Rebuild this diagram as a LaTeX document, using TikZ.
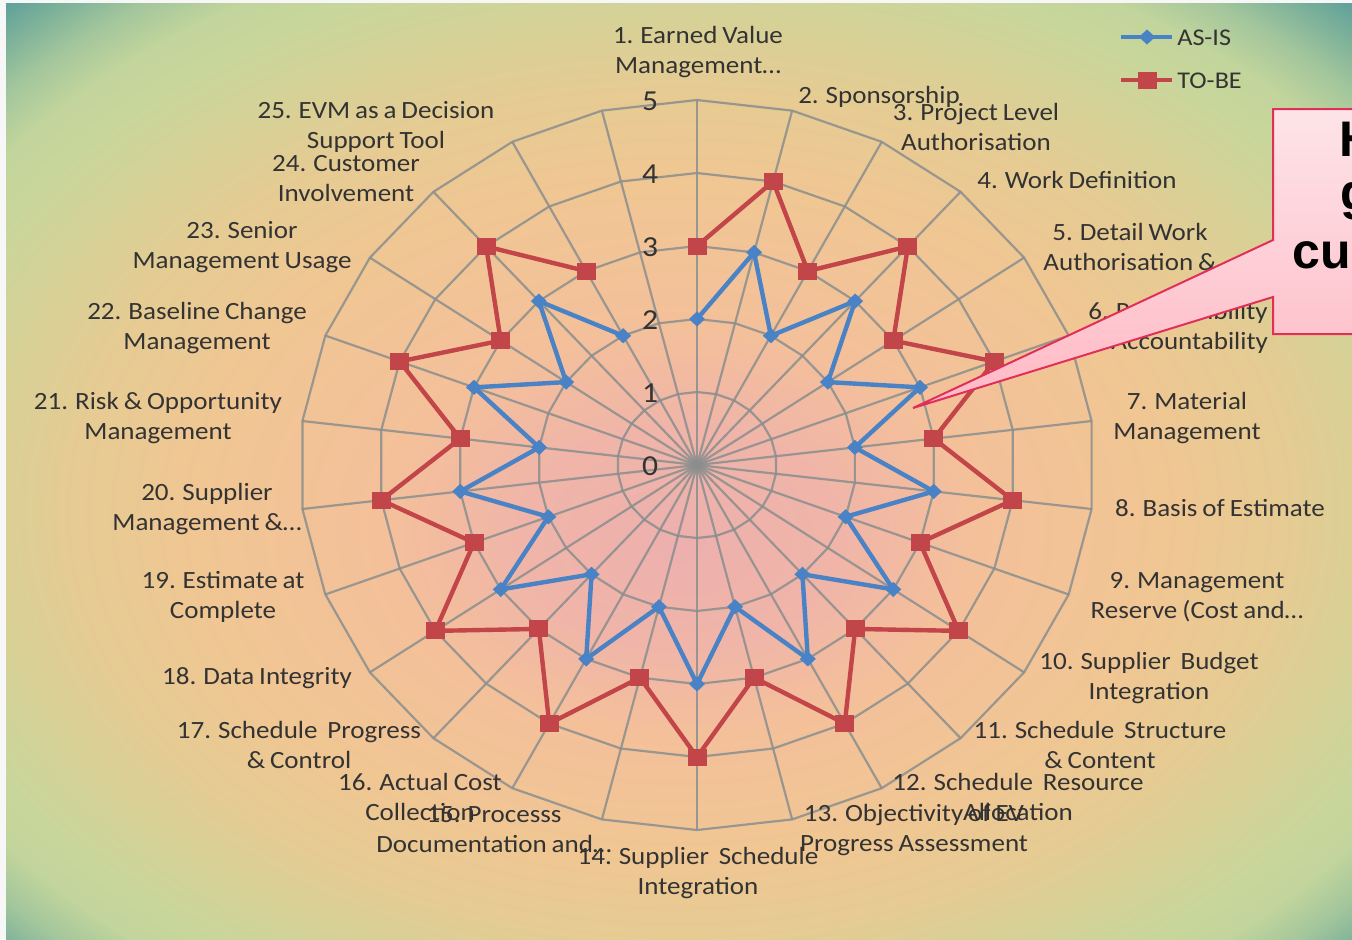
\documentclass[tikz,border=0pt]{standalone}
\usepackage{fontspec}
\setmainfont{Carlito}[FakeStretch=1.09, WordSpace=0.8]
\newfontfamily\calloutfont{Liberation Sans}
\usetikzlibrary{calc}

% background colours, from the pink centre out to the teal corners
\definecolor{bgA}{HTML}{EDB0AE}
\definecolor{bgB}{HTML}{F0B5A8}
\definecolor{bgC}{HTML}{F4C09A}
\definecolor{bgD}{HTML}{F0C693}
\definecolor{bgE}{HTML}{E6CB93}
\definecolor{bgF}{HTML}{D9D096}
\definecolor{bgG}{HTML}{C9D69B}
\definecolor{bgH}{HTML}{C2D59C}
\definecolor{bgI}{HTML}{A3C69C}
\definecolor{bgJ}{HTML}{82B49A}
\definecolor{bgK}{HTML}{62A29A}
\definecolor{bgL}{HTML}{5A9E98}
\pgfdeclareradialshading{chartbg}{\pgfpoint{0bp}{-4bp}}{%
  color(0bp)=(bgA); color(6bp)=(bgB); color(11bp)=(bgC); color(18bp)=(bgD);
  color(22.5bp)=(bgE); color(25.5bp)=(bgF); color(29bp)=(bgG); color(31bp)=(bgH);
  color(33bp)=(bgI); color(34.5bp)=(bgJ); color(36bp)=(bgK); color(50bp)=(bgL)}

\definecolor{asis}{HTML}{4A82C6}
\definecolor{tobe}{HTML}{C2454A}
\definecolor{gridgray}{HTML}{8A8E8E}
\definecolor{labelgray}{HTML}{333333}
\definecolor{calloutedge}{HTML}{E0305A}
\definecolor{callouttop}{HTML}{FDE4E8}
\definecolor{calloutbot}{HTML}{FFB9C4}

\tikzset{
  gridline/.style={draw=gridgray, line width=1.1pt, draw opacity=0.85},
  asisline/.style={draw=asis, line width=2.2pt, line join=round},
  tobeline/.style={draw=tobe, line width=2.2pt, line join=round},
  catlabel/.style={text=labelgray, font=\fontsize{12.4}{15}\selectfont, align=center, inner sep=0pt},
  ticklabel/.style={text=labelgray, font=\fontsize{14.5}{16}\selectfont, inner sep=0pt},
  legendtext/.style={text=labelgray, font=\fontsize{12}{14}\selectfont, anchor=west, inner sep=0pt},
  callouttext/.style={font=\calloutfont\bfseries\fontsize{25}{28}\selectfont, anchor=base west, inner sep=0pt, text=black},
}

\begin{document}
\begin{tikzpicture}[x=0.5pt,y=-0.5pt]
\useasboundingbox (0,0) rectangle (1352,939);
\clip (0,0) rectangle (1352,939);

% page and gradient backdrop
\fill[white!94!gray] (0,0) rectangle (1352,939);
\shade[shading=chartbg] (6,3) rectangle (1352,939);

% radar grid: 26 spokes, rings 1..5
\begin{scope}[shift={(697,465)}, x=39.75pt, y=36.5pt]
  \coordinate (O) at (0,0);
  \foreach \j in {0,...,25} \coordinate (s\j) at ({90-\j*360/26}:5);
  \foreach \j in {0,...,25} \draw[gridline] (O) -- (s\j);
  \foreach \k in {1,...,5}
    \draw[gridline] (90:\k) \foreach \j in {1,...,25}{ -- ({90-\j*360/26}:\k) } -- cycle;
  \foreach \j in {0,...,24} {
    \coordinate (b\j) at ({90-\j*360/26}:{2+mod(\j,2)});
    \coordinate (r\j) at ({90-\j*360/26}:{3+mod(\j,2)});
  }
\end{scope}

% AS-IS series
\draw[asisline] (b0) \foreach \j in {1,...,24}{ -- (b\j) };
\foreach \j in {0,...,24}
  \fill[asis] ([yshift=3.8pt]b\j) -- ([xshift=4pt]b\j) -- ([yshift=-3.8pt]b\j) -- ([xshift=-4pt]b\j) -- cycle;

% TO-BE series
\draw[tobeline] (r0) \foreach \j in {1,...,24}{ -- (r\j) };
\foreach \j in {0,...,24}
  \fill[tobe] ([xshift=-4.75pt,yshift=-4.25pt]r\j) rectangle ([xshift=4.75pt,yshift=4.25pt]r\j);

% scale values
\foreach \k in {0,...,5} \node[ticklabel] (t\k) at (650,{466-73*\k}) {\k};

% category labels
\node[catlabel] (c1)  at (698,52)   {1. Earned Value\\Management…};
\node[catlabel] (c2)  at (879,97)   {2. Sponsorship};
\node[catlabel] (c3)  at (976,127)  {3. Project Level\\Authorisation};
\node[catlabel] (c4)  at (1077,180) {4. Work Definition};
\node[catlabel] (c5)  at (1130,247) {5. Detail Work\\Authorisation \&};
\node[catlabel] (c6)  at (1178,328) {6. Responsibility\\\& Accountability};
\node[catlabel] (c7)  at (1187,418) {7. Material\\Management};
\node[catlabel] (c8)  at (1220,508) {8. Basis of Estimate};
\node[catlabel] (c9)  at (1197,597) {9. Management\\Reserve (Cost and…};
\node[catlabel] (c10) at (1149,678) {10. Supplier~ Budget\\Integration};
\node[catlabel] (c11) at (1100,745) {11. Schedule~ Structure\\\& Content};
\node[catlabel] (c12) at (1018,797) {12. Schedule~ Resource\\Allocation};
\node[catlabel] (c13) at (914,830)  {13. Objectivity of EV\\Progress Assessment};
\node[catlabel] (c14) at (698,873)  {14. Supplier~ Schedule\\Integration};
\node[catlabel] (c15) at (494,830)  {15. Processs\\Documentation and…};
\node[catlabel] (c16) at (420,797)  {16. Actual Cost\\Collection};
\node[catlabel] (c17) at (299,745)  {17. Schedule~ Progress\\\& Control};
\node[catlabel] (c18) at (257,678)  {18. Data Integrity};
\node[catlabel] (c19) at (223,597)  {19. Estimate at\\Complete};
\node[catlabel] (c20) at (207,509)  {20. Supplier\\Management \&…};
\node[catlabel] (c21) at (158,418)  {21. Risk \& Opportunity\\Management};
\node[catlabel] (c22) at (197,328)  {22. Baseline Change\\Management};
\node[catlabel] (c23) at (242,247)  {23. Senior\\Management Usage};
\node[catlabel] (c24) at (346,179)  {24. Customer\\Involvement};
\node[catlabel] (c25) at (376,127)  {25. EVM as a Decision\\Support Tool};

% legend
\coordinate (la) at (1121,37);
\coordinate (lb) at (1172,37);
\coordinate (lm) at (1147,37);
\draw[asisline, line width=1.7pt] (la) -- (lb);
\fill[asis] ([yshift=3.8pt]lm) -- ([xshift=4pt]lm) -- ([yshift=-3.8pt]lm) -- ([xshift=-4pt]lm) -- cycle;
\node[legendtext] (lasis) at (1177,38) {AS-IS};
\coordinate (lc) at (1121,80);
\coordinate (ld) at (1172,80);
\coordinate (ln) at (1147,80);
\draw[tobeline, line width=1.7pt] (lc) -- (ld);
\fill[tobe] ([xshift=-4.75pt,yshift=-4.25pt]ln) rectangle ([xshift=4.75pt,yshift=4.25pt]ln);
\node[legendtext] (ltobe) at (1177,81) {TO-BE};

% callout
\shadedraw[top color=callouttop, bottom color=calloutbot, draw=calloutedge, line width=1pt, line join=miter]
  (1273,109) -- (1390,109) -- (1390,334) -- (1273,334) -- (1273,297) -- (913,408) -- (1273,240) -- cycle;
\node[callouttext] (cH)  at (1339,156) {H};
\node[callouttext] (cg)  at (1340,209) {g};
\node[callouttext] (ccu) at (1292,268) {cu};
\end{tikzpicture}
\end{document}
